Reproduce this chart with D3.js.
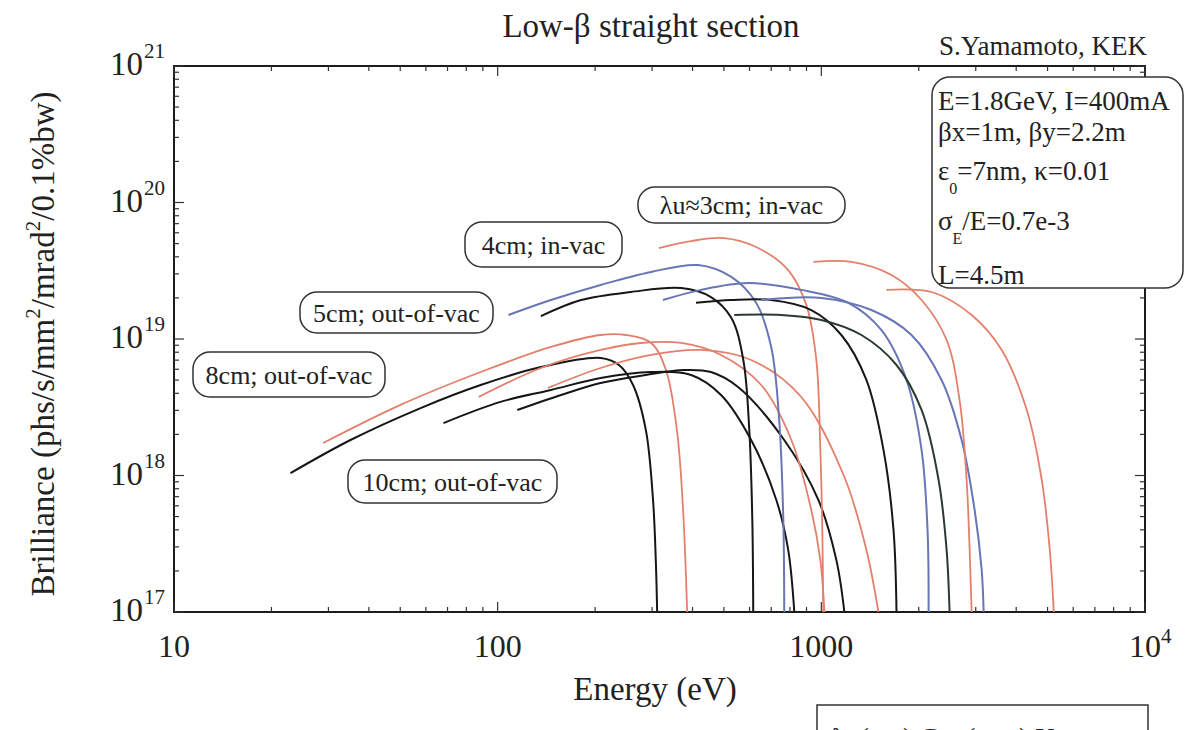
<!DOCTYPE html>
<html>
<head>
<meta charset="utf-8">
<script src="https://cdn.jsdelivr.net/npm/d3@7"></script>
<style>
body { margin: 0; background: #fff; }
svg { font-family: "Liberation Serif", "DejaVu Serif", serif; }
</style>
</head>
<body>
<svg id="chart" width="1188" height="730"></svg>
<script>
// tuning curves, [energy eV, brilliance]
var u10_h1 = [[22.9,1.04e18],[35.1,1.82e18],[57.8,3.12e18],[88.6,4.6e18],[136,6.23e18],[208,7.26e18],[237,6.45e18],[262,4.6e18],[287,2.15e18],[302,6.62e17],[308,2.4e17],[311,1e17]];
var u8_h1 = [[28.9,1.73e18],[50.1,3.29e18],[88.6,5.73e18],[146,8.74e18],[208,1.07e19],[249,1.07e19],[298,9.35e18],[331,5.93e18],[358,2.15e18],[374,5.59e17],[385,1e17]];
var u10_h3 = [[68.0,2.42e18],[102,3.46e18],[146,4.23e18],[208,5.18e18],[298,5.73e18],[396,5.45e18],[490,3.89e18],[607,1.82e18],[726,6.62e17],[790,2.85e17],[825,1e17]];
var u10_h5 = [[115,3.02e18],[157,3.89e18],[208,4.76e18],[287,5.45e18],[377,5.93e18],[456,5.73e18],[553,4.45e18],[768,1.82e18],[979,6.62e17],[1113,2.4e17],[1178,1e17]];
var u8_h3 = [[87.3,3.76e18],[136,6.13e18],[208,8.31e18],[277,9.35e18],[369,9.35e18],[490,7.64e18],[652,4.6e18],[808,1.82e18],[931,5.59e17],[993,2.4e17],[1022,1e17]];
var u8_h5 = [[143,4.38e18],[208,6.13e18],[298,7.64e18],[425,8.31e18],[607,7.02e18],[867,3.76e18],[1178,9.75e17],[1378,2.85e17],[1501,1e17]];
var u4_h1 = [[108,1.5e19],[146,1.93e19],[208,2.49e19],[298,3.1e19],[416,3.48e19],[527,2.85e19],[629,1.84e19],[700,8.74e18],[741,2.55e18],[763,4.72e17],[768,1e17]];
var u5_h1 = [[136,1.47e19],[181,1.93e19],[258,2.21e19],[369,2.36e19],[456,2.03e19],[527,1.43e19],[574,7.02e18],[599,2.15e18],[612,4.72e17],[616,1e17]];
var u3_h1 = [[315,4.64e19],[396,5.22e19],[501,5.49e19],[629,4.72e19],[790,3.2e19],[899,1.77e19],[965,7.02e18],[993,1.54e18],[1007,3.99e17],[1014,1e17]];
var u4_h3 = [[324,1.93e19],[425,2.29e19],[594,2.57e19],[867,2.29e19],[1212,1.84e19],[1534,1.16e19],[1833,5.01e18],[2040,1.54e18],[2129,3.99e17],[2145,1e17]];
var u5_h3 = [[410,1.84e19],[527,1.93e19],[700,1.93e19],[931,1.63e19],[1153,1.07e19],[1378,5.01e18],[1556,1.54e18],[1671,3.99e17],[1707,1e17]];
var u5_h5 = [[538,1.5e19],[752,1.5e19],[1000,1.38e19],[1330,1.07e19],[1707,6.45e18],[2040,3.02e18],[2303,9.27e17],[2438,2.85e17],[2490,1e17]];
var u4_h5 = [[652,1.93e19],[1000,2.0e19],[1428,1.63e19],[1899,1.07e19],[2352,5.01e18],[2713,1.82e18],[2976,5.59e17],[3129,2.03e17],[3173,1e17]];
var u3_h3 = [[945,3.67e19],[1239,3.67e19],[1647,2.94e19],[2040,1.93e19],[2438,9.83e18],[2674,3.57e18],[2811,9.27e17],[2872,2.85e17],[2913,1e17]];
var u3_h5 = [[1589,2.29e19],[2191,2.21e19],[2913,1.5e19],[3608,8.31e18],[4312,3.02e18],[4798,9.27e17],[5079,2.85e17],[5226,1e17]];

var xTicks = [10, 100, 1000, 10000];
var xTickLabels = ["10", "100", "1000", "10|4"];
var yTicks = [1e17, 1e18, 1e19, 1e20, 1e21];
var yTickExp = ["17", "18", "19", "20", "21"];

var infoLines = ["E=1.8GeV, I=400mA", "\u03b2x=1m, \u03b2y=2.2m", "\u03b5|0|=7nm, \u03ba=0.01", "\u03c3|E|/E=0.7e-3", "L=4.5m"];
var tags = ["\u03bbu\u22483cm; in-vac", "4cm; in-vac", "5cm; out-of-vac", "8cm; out-of-vac", "10cm; out-of-vac"];

var red = "#e3806c", blue = "#6876b6", black = "#161616";

var series = [
  {d: u10_h1, c: black}, {d: u8_h1, c: red}, {d: u10_h3, c: black}, {d: u10_h5, c: black},
  {d: u8_h3, c: red}, {d: u8_h5, c: red},
  {d: u4_h1, c: blue}, {d: u5_h1, c: black}, {d: u3_h1, c: red},
  {d: u4_h3, c: blue}, {d: u5_h3, c: black}, {d: u5_h5, c: "#2c3a30"},
  {d: u4_h5, c: blue}, {d: u3_h3, c: red}, {d: u3_h5, c: red}
];

var svg = d3.select("#chart");
var pl = 174, pr = 1145, pt = 66, pb = 612;

var x = d3.scaleLog().domain([10, 1e4]).range([pl, pr]);
var y = d3.scaleLog().domain([1e17, 1e21]).range([pb, pt]);

//frame
svg.append("rect")
  .attr("x", pl).attr("y", pt)
  .attr("width", pr - pl).attr("height", pb - pt)
  .attr("fill", "none").attr("stroke", "#1c1c1c").attr("stroke-width", 2);

//ticks, inward
var g = svg.append("g").attr("stroke", "#333").attr("stroke-width", 1.2);
var xMinor = [], yMinor = [];
for (var dec = 10; dec < 1e4; dec *= 10)
  for (var k = 2; k < 10; k++) xMinor.push(dec * k);
for (var dd = 1e17; dd < 1e21; dd *= 10)
  for (var j = 2; j < 10; j++) yMinor.push(dd * j);

xTicks.concat(xMinor).forEach(function(t) {
  var len = xTicks.indexOf(t) >= 0 ? 10 : 5;
  g.append("line").attr("x1", x(t)).attr("x2", x(t)).attr("y1", pb).attr("y2", pb - len);
  g.append("line").attr("x1", x(t)).attr("x2", x(t)).attr("y1", pt).attr("y2", pt + len);
});
yTicks.concat(yMinor).forEach(function(t) {
  var len = yTicks.indexOf(t) >= 0 ? 10 : 5;
  g.append("line").attr("y1", y(t)).attr("y2", y(t)).attr("x1", pl).attr("x2", pl + len);
  g.append("line").attr("y1", y(t)).attr("y2", y(t)).attr("x1", pr).attr("x2", pr - len);
});

//curves
var line = d3.line()
  .x(function(d) { return x(d[0]); })
  .y(function(d) { return y(d[1]); })
  .curve(d3.curveCatmullRom.alpha(0.5));

svg.append("g").selectAll("path")
  .data(series)
  .enter().append("path")
    .attr("d", function(s) { return line(s.d); })
    .attr("fill", "none")
    .attr("stroke", function(s) { return s.c; })
    .attr("stroke-width", function(s) { return s.c == red ? 1.8 : 2; });

//tick labels
xTicks.forEach(function(t, i) {
  var parts = xTickLabels[i].split("|");
  var tx = svg.append("text")
    .attr("x", x(t)).attr("y", 657)
    .attr("font-size", 32).attr("fill", "#222")
    .attr("text-anchor", parts.length > 1 ? "start" : "middle");
  if (parts.length > 1) {
    tx.attr("x", x(t) - 16).text(parts[0]);
    tx.append("tspan").attr("font-size", 21).attr("dy", -14).text(parts[1]);
  } else tx.text(parts[0]);
});
yTicks.forEach(function(t, i) {
  svg.append("text")
    .attr("x", 143).attr("y", y(t) + 9)
    .attr("text-anchor", "end").attr("font-size", 33).attr("fill", "#222")
    .text("10");
  svg.append("text")
    .attr("x", 144).attr("y", y(t) - 8)
    .attr("font-size", 21).attr("fill", "#222")
    .text(yTickExp[i]);
});

//axis titles
svg.append("text")
  .attr("x", 651).attr("y", 37)
  .attr("text-anchor", "middle").attr("font-size", 33).attr("fill", "#222")
  .text("Low-\u03b2 straight section");

svg.append("text")
  .attr("x", 655).attr("y", 700)
  .attr("text-anchor", "middle").attr("font-size", 33).attr("fill", "#222")
  .text("Energy (eV)");

var yl = svg.append("text")
  .attr("transform", "translate(54,344) rotate(-90)")
  .attr("text-anchor", "middle").attr("font-size", 33).attr("fill", "#222");
yl.append("tspan").text("Brilliance (phs/s/mm");
yl.append("tspan").attr("font-size", 21).attr("dy", -14).text("2");
yl.append("tspan").attr("dy", 14).text("/mrad");
yl.append("tspan").attr("font-size", 21).attr("dy", -14).text("2");
yl.append("tspan").attr("dy", 14).text("/0.1%bw)");

svg.append("text")
  .attr("x", 1043).attr("y", 55)
  .attr("text-anchor", "middle").attr("font-size", 27).attr("fill", "#222")
  .text("S.Yamamoto, KEK");

//parameter box
svg.append("rect")
  .attr("x", 932).attr("y", 77).attr("width", 251).attr("height", 211)
  .attr("rx", 18).attr("fill", "#fff").attr("stroke", "#333").attr("stroke-width", 1.5);
var infoY = [110, 141, 180, 230, 284];
infoLines.forEach(function(s, i) {
  var parts = s.split("|");
  var t = svg.append("text")
    .attr("x", 938).attr("y", infoY[i])
    .attr("font-size", 27).attr("fill", "#222");
  t.append("tspan").text(parts[0]);
  if (parts.length > 1) {
    t.append("tspan").attr("font-size", 16).attr("fill", "#222").attr("dy", 14).text(parts[1]);
    t.append("tspan").attr("dy", -14).text(parts[2]);
  }
});

//undulator tags
var tagBox = [[638,187,207,36],[465,222,157,45],[300,292,193,41],[193,352,192,45],[348,460,209,43]];
tags.forEach(function(s, i) {
  var b = tagBox[i];
  svg.append("rect")
    .attr("x", b[0]).attr("y", b[1]).attr("width", b[2]).attr("height", b[3])
    .attr("rx", 17).attr("fill", "#fff").attr("stroke", "#333").attr("stroke-width", 1.5);
  svg.append("text")
    .attr("x", b[0] + b[2] / 2).attr("y", b[1] + b[3] / 2 + 9)
    .attr("text-anchor", "middle").attr("font-size", 26).attr("fill", "#222")
    .text(s);
});

//cut-off table at the bottom
svg.append("rect")
  .attr("x", 817).attr("y", 705).attr("width", 331).attr("height", 60)
  .attr("fill", "#fff").attr("stroke", "#333").attr("stroke-width", 1.5);
svg.append("text")
  .attr("x", 832).attr("y", 747)
  .attr("font-size", 28).attr("fill", "#222")
  .text("\u03bbu(cm)  Gap(mm)  Kmax");
</script>
</body>
</html>
